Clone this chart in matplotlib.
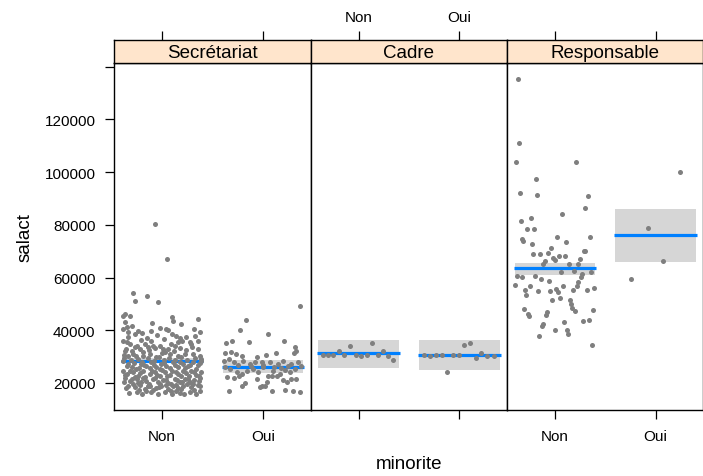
import matplotlib
matplotlib.use("Agg")
import matplotlib.pyplot as plt
import numpy as np

plt.rcParams['font.family'] = ['Liberation Sans', 'DejaVu Sans']

panels = ["Secrétariat", "Cadre", "Responsable"]
levels = ["Non", "Oui"]

# fitted means and confidence bands (per panel, per level)
fit = [[28460, 26200], [31400, 30700], [63500, 76300]]
lower = [[27600, 23800], [25800, 25100], [61100, 66000]]
upper = [[29400, 28700], [36300, 36300], [65500, 86000]]

# partial residual points: salary values and horizontal jitter (in category units)
sec_non_sal = [54200, 51100, 52900, 50600, 45300, 46200, 45300, 44900, 43700, 43000,
               40500, 39500, 41100, 39900, 39000, 39600, 40800, 40500, 40200, 40500,
               39200, 37700, 37000, 36100, 36100, 35700, 32300, 34800, 33500, 32900,
               34800, 33500, 36100, 34200, 34200, 32900, 34800, 34200, 35400, 34800,
               36100, 30600, 30100, 31000, 29100, 30400, 31000, 29700, 31600, 31000,
               30400, 31000, 31000, 30400, 28500, 27200, 26000, 25300, 27200, 26600,
               27800, 26000, 27200, 26300, 27800, 26000, 27200, 26300, 27800, 26800,
               28500, 24700, 23400, 24100, 22800, 24700, 23400, 24100, 22800, 24300,
               23000, 24100, 22800, 23800, 24700, 23000, 24100, 21800, 20900, 21500,
               20300, 20900, 21500, 20300, 21300, 20000, 21500, 20500, 21500, 20300,
               21300, 21800, 19000, 18400, 19200, 17700, 18700, 18000, 19000, 17700,
               18700, 18000, 19000, 18400, 19200, 16500, 17100, 16500, 16700, 17100,
               16200, 16500, 17100, 80200, 67100,
               33000, 32000, 34000, 31800, 32500, 33200, 31200, 33000, 32000, 33300,
               32600, 33600, 32800,
               29500, 28700, 30200, 28000, 29300, 28200, 30000, 28700, 29500, 28900,
               29800, 28600, 29300, 29000,
               26300, 27500, 25800, 26900, 25600, 27000, 25400, 27600, 25700, 26800,
               27900, 25600, 27000, 25200, 27400,
               23000, 24400, 22400, 23900, 22300, 24500, 23000, 24800, 22500, 24400,
               23300, 24700, 22600, 24300, 22800,
               20400, 21600, 20000, 21800, 19700, 21900, 19500, 21000, 19800, 21200,
               20200, 21700, 19800, 20600,
               18000, 19500, 17400, 18900, 17200, 18300, 19300, 16900, 19400, 17600,
               19600, 17500, 18800,
               16200, 15800, 16000, 15900, 15700, 16000,
               37500, 38600, 37200, 38100, 36800, 38500, 37600, 38000, 36400, 35600,
               41800, 42300, 44100, 42600]
sec_non_jit = [-0.29, -0.27, -0.15, -0.04, -0.39, -0.37, -0.32, 0.10, 0.11, -0.37,
               -0.39, -0.34, -0.35, -0.24, -0.20, -0.11, -0.02, 0.04, 0.06, 0.32,
               0.38, 0.14, 0.18, 0.20, -0.39, -0.35, -0.37, -0.32, -0.27, -0.22,
               -0.17, -0.14, -0.11, -0.09, -0.02, 0.01, 0.09, 0.13, 0.28, 0.29,
               0.36, -0.38, -0.34, -0.29, -0.24, -0.19, -0.12, -0.06, 0.03, 0.08,
               0.16, 0.23, 0.31, 0.38, -0.39, -0.34, -0.30, -0.26, -0.21, -0.16,
               -0.11, -0.06, -0.01, 0.04, 0.11, 0.16, 0.21, 0.26, 0.31, 0.36,
               0.39, -0.39, -0.35, -0.29, -0.24, -0.19, -0.12, -0.07, -0.02, 0.03,
               0.08, 0.14, 0.19, 0.24, 0.29, 0.34, 0.39, -0.37, -0.32, -0.25,
               -0.21, -0.16, -0.09, -0.04, 0.01, 0.06, 0.13, 0.18, 0.23, 0.28,
               0.32, 0.38, -0.34, -0.27, -0.22, -0.17, -0.12, -0.06, -0.01, 0.06,
               0.11, 0.16, 0.21, 0.29, 0.36, -0.25, -0.16, -0.11, 0.03, 0.14,
               0.18, 0.28, 0.38, -0.07, 0.05,
               -0.36, -0.30, -0.25, -0.19, -0.13, -0.07, 0.00, 0.06, 0.12, 0.18,
               0.24, 0.30, 0.36,
               -0.38, -0.31, -0.26, -0.20, -0.14, -0.08, -0.03, 0.02, 0.07, 0.13,
               0.19, 0.25, 0.33, 0.39,
               -0.35, -0.28, -0.23, -0.18, -0.12, -0.08, -0.02, 0.02, 0.08, 0.13,
               0.18, 0.23, 0.28, 0.34, 0.38,
               -0.37, -0.32, -0.27, -0.22, -0.17, -0.10, -0.05, 0.00, 0.05, 0.10,
               0.16, 0.21, 0.27, 0.32, 0.37,
               -0.38, -0.30, -0.24, -0.19, -0.13, -0.07, -0.02, 0.04, 0.09, 0.15,
               0.20, 0.26, 0.31, 0.37,
               -0.36, -0.29, -0.23, -0.14, -0.09, -0.03, 0.04, 0.09, 0.14, 0.19,
               0.25, 0.32, 0.38,
               -0.33, -0.20, -0.04, 0.10, 0.22, 0.34,
               -0.34, -0.27, -0.15, -0.05, 0.02, 0.10, 0.24, 0.33, -0.21, 0.16,
               -0.30, 0.19, 0.36, -0.10]

sec_oui_sal = [49100, 44000, 40200, 38500, 35800, 35200, 36100, 35400, 33500, 32300,
               31400, 31600, 31000, 30400, 29700, 30600, 31400, 31400, 28500, 29100,
               27800, 28500, 27200, 27800, 28100, 27800, 27200, 28500, 27200, 27800,
               26300, 26000, 25300, 24300, 23400, 24700, 25300, 24100, 26000, 22800,
               24700, 23400, 25100, 24100, 25300, 22200, 21800, 22800, 20000, 21500,
               19000, 20300, 22500, 22500, 21300, 20300, 21500, 21500, 17100, 19000,
               18400, 18700, 17100, 17500, 17100, 16500, 26900, 26200, 26500, 26600,
               26800, 25800]
sec_oui_jit = [0.37, -0.17, -0.23, 0.05, 0.21, -0.37, -0.31, -0.14, 0.32, 0.33,
               -0.38, -0.32, -0.27, -0.21, -0.06, 0.03, 0.13, 0.31, -0.39, -0.34,
               -0.29, -0.20, -0.13, -0.08, -0.01, 0.07, 0.15, 0.20, 0.28, 0.35,
               0.38, -0.38, -0.33, -0.26, -0.21, -0.16, -0.10, -0.05, 0.00, 0.05,
               0.10, 0.17, 0.22, 0.27, 0.32, -0.36, -0.29, -0.24, -0.18, -0.06,
               -0.01, 0.04, 0.09, 0.14, 0.20, 0.24, 0.28, 0.33, -0.34, -0.21,
               -0.03, 0.02, 0.09, 0.22, 0.30, 0.37, 0.00, 0.11, -0.12, 0.25,
               -0.25, 0.18]

cad_non_sal = [30700, 30700, 30700, 32000, 30700, 33900, 30700, 30100, 30700, 35300,
               30700, 32000, 30100, 28600]
cad_non_jit = [-0.35, -0.30, -0.25, -0.19, -0.14, -0.08, -0.03, 0.02, 0.08, 0.13,
               0.19, 0.24, 0.29, 0.34]
cad_oui_sal = [30700, 30100, 30700, 30700, 24300, 30700, 30700, 34500, 35300, 29500,
               31400, 30400, 30100]
cad_oui_jit = [-0.35, -0.29, -0.23, -0.17, -0.12, -0.06, 0.00, 0.05, 0.11, 0.17,
               0.22, 0.28, 0.34]

res_non_sal = [135400, 111000, 104000, 103800, 97300, 92200, 91500, 90900, 86400, 84000,
               82700, 81400, 78300, 78400, 75300, 75300, 74600, 73900, 72600, 73600,
               71100, 69400, 69000, 69000, 68300, 68300, 67400, 66800, 70200, 70200,
               67100, 66200, 65300, 65200, 65300, 62000, 62600, 61500, 62000, 60500,
               60100, 60700, 59500, 58800, 60100, 58200, 56900, 57200, 56700, 56700,
               55200, 53300, 55000, 55000, 55700, 54400, 55200, 55200, 55900, 51400,
               52100, 51600, 49900, 48600, 47300, 48100, 46100, 45300, 47100, 45800,
               47700, 42400, 41500, 43000, 43600, 43800, 40200, 40200, 38700, 37800,
               34400]
res_non_jit = [-0.37, -0.36, -0.39, 0.21, -0.19, -0.35, -0.18, 0.33, 0.30, 0.07,
               -0.24, -0.34, -0.28, -0.21, 0.02, 0.35, -0.33, -0.32, -0.23, 0.11,
               -0.04, -0.07, -0.22, -0.15, 0.04, 0.10, -0.02, 0.00, 0.29, 0.30,
               0.25, -0.10, -0.12, 0.14, 0.23, 0.06, 0.19, 0.27, 0.36, -0.38,
               -0.33, -0.20, -0.14, -0.06, 0.26, 0.23, 0.22, -0.40, -0.25, 0.08,
               -0.30, -0.29, -0.17, -0.05, 0.01, 0.03, 0.18, 0.32, 0.39, -0.03,
               0.05, 0.15, 0.16, 0.17, 0.20, -0.31, -0.27, -0.26, -0.08, -0.09,
               0.38, -0.12, -0.13, 0.09, 0.28, 0.34, 0.00, 0.12, 0.13, -0.16,
               0.37]
res_oui_sal = [100200, 78700, 66400, 59500]
res_oui_jit = [0.24, -0.08, 0.07, -0.24]

points = [[(sec_non_jit, sec_non_sal), (sec_oui_jit, sec_oui_sal)],
          [(cad_non_jit, cad_non_sal), (cad_oui_jit, cad_oui_sal)],
          [(res_non_jit, res_non_sal), (res_oui_jit, res_oui_sal)]]

yticks = [20000, 40000, 60000, 80000, 100000, 120000, 140000]
ytick_labels = ["20000", "40000", "60000", "80000", "100000", "120000", ""]

W, H = 703, 477
fig = plt.figure(figsize=(W / 100, H / 100), dpi=100)

px_left = 114.3
px_w = 196.4
px_top_panel = 64
px_bottom_panel = 411
px_strip_top = 41

xlim = (0.525, 2.475)
ylim = (9750, 141400)

tick_fs = 11
lab_fs = 13.5

for i, name in enumerate(panels):
    l = (px_left + i * px_w) / W
    ax = fig.add_axes([l, (H - px_bottom_panel) / H, px_w / W,
                       (px_bottom_panel - px_top_panel) / H])
    for j in range(2):
        xc = j + 1
        ax.fill_between([xc - 0.40, xc + 0.40], lower[i][j], upper[i][j],
                        color="#D6D6D6", linewidth=0, zorder=1)
        ax.plot([xc - 0.41, xc + 0.41], [fit[i][j], fit[i][j]], color="#0080FF",
                linewidth=2.3, solid_capstyle="butt", zorder=2)
        jit, sal = points[i][j]
        ax.scatter(xc + np.array(jit), sal, s=13, color="#7F7F7F",
                   linewidths=0, zorder=3)
    ax.set_xlim(*xlim)
    ax.set_ylim(*ylim)
    ax.set_xticks([1, 2])
    if i in (0, 2):
        ax.set_xticklabels(levels)
    else:
        ax.set_xticklabels(["", ""])
    ax.tick_params(axis="x", direction="out", length=6.5, width=0.9,
                   labelsize=tick_fs, pad=7)
    if i == 0:
        ax.set_yticks(yticks)
        ax.set_yticklabels(ytick_labels)
        ax.tick_params(axis="y", direction="out", length=6.5, width=0.9,
                       labelsize=tick_fs, pad=7)
        ax.set_ylabel("salact", fontsize=lab_fs, labelpad=8)
    else:
        ax.set_yticks([])
    for sp in ax.spines.values():
        sp.set_linewidth(1.0)
        sp.set_color("black")

    # strip
    sax = fig.add_axes([l, (H - px_top_panel) / H, px_w / W,
                        (px_top_panel - px_strip_top) / H])
    sax.set_facecolor("#FFE5CC")
    sax.set_xlim(*xlim)
    sax.set_ylim(0, 1)
    sax.text(0.5, 0.47, name, transform=sax.transAxes, ha="center", va="center",
             fontsize=lab_fs)
    sax.set_yticks([])
    sax.xaxis.set_ticks_position("top")
    sax.set_xticks([1, 2])
    if i == 1:
        sax.set_xticklabels(levels)
    else:
        sax.set_xticklabels(["", ""])
    sax.tick_params(axis="x", direction="out", length=6.5, width=0.9,
                    labelsize=tick_fs, pad=5, top=True, bottom=False,
                    labeltop=True, labelbottom=False)
    for sp in sax.spines.values():
        sp.set_linewidth(1.0)
        sp.set_color("black")

fig.text((px_left + 1.5 * px_w) / W, 1 - 465 / H, "minorite", ha="center",
         va="center", fontsize=lab_fs)

fig.savefig("out.png", dpi=100)
